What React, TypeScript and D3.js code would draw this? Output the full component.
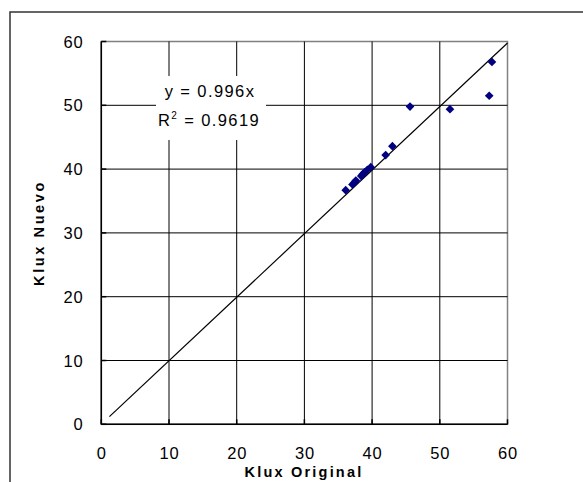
import React from "react";
import * as d3 from "d3";

const xTicks = [0, 10, 20, 30, 40, 50, 60];
const yTicks = [0, 10, 20, 30, 40, 50, 60];
const xOriginal = [36.1, 37.1, 37.4, 37.6, 38.4, 38.6, 38.9, 39.3, 39.8, 42.0, 43.0, 45.6, 51.5, 57.3, 57.7];
const yNuevo = [36.7, 37.6, 37.9, 38.2, 38.9, 39.2, 39.5, 39.9, 40.3, 42.2, 43.6, 49.8, 49.4, 51.5, 56.8];
const slope = 0.996;
const trendRange = [1.2, 60];
const eqText = "y = 0.996x";
const r2Value = "0.9619";
const xTitle = "Klux Original";
const yTitle = "Klux Nuevo";

const W = 583;
const H = 482;
const L = 101.3, R = 507.5, T = 41.5, B = 424.3;
const FONT = "Arial, 'Liberation Sans', sans-serif";

export default function App() {
  const x = d3.scaleLinear().domain([0, 60]).range([L, R]);
  const y = d3.scaleLinear().domain([0, 60]).range([B, T]);
  const line = d3.line<number>().x((d) => x(d)).y((d) => y(slope * d));
  const diamond = d3.symbol().type(d3.symbolDiamond2).size(48)();

  return (
    <svg
      width={W}
      height={H}
      style={{ position: "absolute", left: 0, top: 0, background: "#fff" }}
      fontFamily={FONT}
    >
      <rect x={0} y={0} width={W} height={H} fill="#fff" />
      {/* outer chart frame */}
      <rect x={10} y={12} width={W + 20} height={H + 20} fill="none" stroke="#333" strokeWidth={1.5} />
      {/* plot area */}
      <rect x={L} y={T} width={R - L} height={B - T} fill="#fff" stroke="#808080" strokeWidth={1.5} />
      {/* gridlines */}
      {xTicks.filter((t) => t > 0 && t < 60).map((t) => (
        <line key={"gx" + t} x1={x(t)} x2={x(t)} y1={T} y2={B} stroke="#000" strokeWidth={1} />
      ))}
      {yTicks.filter((t) => t > 0 && t < 60).map((t) => (
        <line key={"gy" + t} x1={L} x2={R} y1={y(t)} y2={y(t)} stroke="#000" strokeWidth={1} />
      ))}
      {/* axes */}
      <line x1={L} x2={L} y1={T} y2={B} stroke="#000" strokeWidth={1.5} />
      <line x1={L} x2={R} y1={B} y2={B} stroke="#000" strokeWidth={1.5} />
      {yTicks.map((t) => (
        <line key={"ty" + t} x1={L} x2={L + 5} y1={y(t)} y2={y(t)} stroke="#000" strokeWidth={1.5} />
      ))}
      {xTicks.map((t) => (
        <line key={"tx" + t} x1={x(t)} x2={x(t)} y1={B} y2={B - 5} stroke="#000" strokeWidth={1.5} />
      ))}
      {/* trendline */}
      <path d={line(trendRange) || ""} stroke="#000" strokeWidth={1.2} fill="none" />
      {/* points */}
      {xOriginal.map((v, i) => (
        <path key={"p" + i} d={diamond || ""} transform={`translate(${x(v)},${y(yNuevo[i])})`} fill="#000080" />
      ))}
      {/* equation label */}
      <rect x={156} y={76} width={110} height={64} fill="#fff" />
      <text x={210} y={97} textAnchor="middle" fontSize={16.5} letterSpacing={1.4} fill="#000">
        {eqText}
      </text>
      <text x={209} y={126} textAnchor="middle" fontSize={16.5} letterSpacing={1.4} fill="#000">
        R<tspan dy={-7} fontSize={10}>2</tspan>
        <tspan dy={7}> = {r2Value}</tspan>
      </text>
      {/* tick labels */}
      {yTicks.map((t) => (
        <text key={"ly" + t} x={83.5} y={y(t) + 6} textAnchor="end" fontSize={16.5} letterSpacing={0.8} fill="#000">
          {t}
        </text>
      ))}
      {xTicks.map((t) => (
        <text key={"lx" + t} x={x(t) + 0.5} y={459} textAnchor="middle" fontSize={16.5} letterSpacing={0.8} fill="#000">
          {t}
        </text>
      ))}
      {/* axis titles */}
      <text x={304} y={477} textAnchor="middle" fontSize={14.5} fontWeight="bold" letterSpacing={2.2} fill="#000">
        {xTitle}
      </text>
      <text
        transform={`translate(44,233) rotate(-90)`}
        textAnchor="middle"
        fontSize={14.5}
        fontWeight="bold"
        letterSpacing={2.6}
        fill="#000"
      >
        {yTitle}
      </text>
    </svg>
  );
}
